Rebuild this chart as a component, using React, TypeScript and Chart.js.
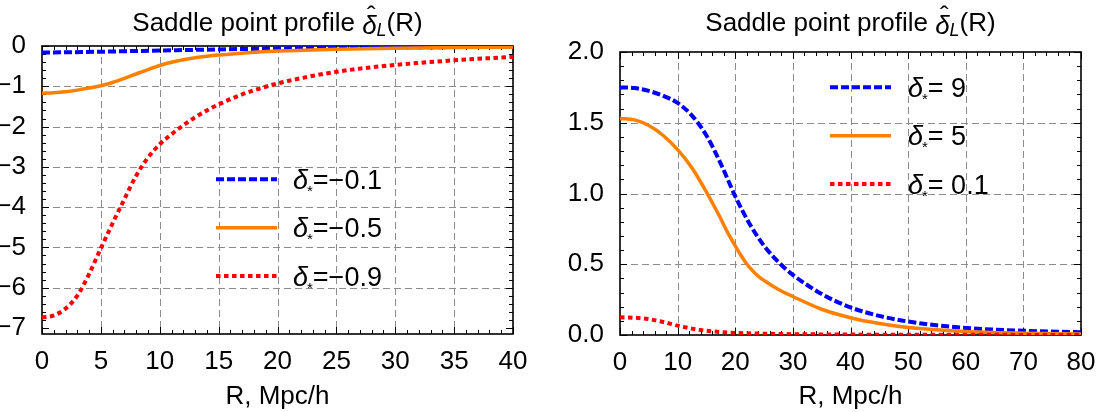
import React, { useEffect, useRef } from "react";
import { Chart, registerables } from "chart.js";

Chart.register(...registerables);

const FONT = "'Liberation Sans', Arial, Helvetica, sans-serif";
const FS = 26;

// ---------- titles ----------
const TITLE_MAIN = "Saddle point profile ";
const TITLE_SYMBOL = "δ";
const TITLE_HAT = "ˆ";
const TITLE_SUB = "L";
const TITLE_TAIL = "(R)";
const X_TITLE = "R, Mpc/h";

// ---------- left panel data (δ* < 0) ----------
const LEFT_LABELS = ["δ*=−0.1", "δ*=−0.5", "δ*=−0.9"];
const LEFT_X_TICKS = [0, 5, 10, 15, 20, 25, 30, 35, 40];
const LEFT_Y_TICKS = [0, -1, -2, -3, -4, -5, -6, -7];

const leftBlueR = [0, 2.5, 5, 7.5, 10, 12.5, 15, 17.5, 20, 25, 30, 35, 40];
const leftBlueV = [-0.16, -0.155, -0.142, -0.127, -0.112, -0.098, -0.085, -0.073, -0.062, -0.046, -0.035, -0.027, -0.021];

const leftOrangeR = [0, 1, 2, 3, 4, 5, 6, 7, 8, 9, 10, 11, 12, 13, 14, 15, 17.5, 20, 25, 30, 35, 40];
const leftOrangeV = [-1.17, -1.16, -1.135, -1.095, -1.045, -0.985, -0.905, -0.805, -0.695, -0.585, -0.485, -0.405, -0.342, -0.292, -0.255, -0.225, -0.165, -0.125, -0.078, -0.053, -0.04, -0.03];

const leftRedR = [0, 1, 2, 3, 4, 5, 6, 7, 8, 9, 10, 11, 12, 13, 14, 15, 16, 17, 18, 20, 22.5, 25, 27.5, 30, 35, 40];
const leftRedV = [-6.74, -6.69, -6.52, -6.2, -5.66, -5.02, -4.4, -3.8, -3.22, -2.77, -2.44, -2.19, -1.97, -1.77, -1.6, -1.45, -1.32, -1.2, -1.1, -0.93, -0.77, -0.64, -0.545, -0.47, -0.355, -0.27];

// ---------- right panel data (δ* > 0) ----------
const RIGHT_LABELS = ["δ*= 9", "δ*= 5", "δ*= 0.1"];
const RIGHT_X_TICKS = [0, 10, 20, 30, 40, 50, 60, 70, 80];
const RIGHT_Y_TICKS = [0, 0.5, 1.0, 1.5, 2.0];

const rightBlueR = [0, 2.5, 5, 7.5, 10, 12.5, 15, 17.5, 20, 22.5, 25, 27.5, 30, 35, 40, 45, 50, 60, 70, 80];
const rightBlueV = [1.75, 1.745, 1.725, 1.69, 1.64, 1.55, 1.41, 1.21, 0.98, 0.785, 0.63, 0.515, 0.425, 0.29, 0.195, 0.135, 0.095, 0.05, 0.03, 0.019];

const rightOrangeR = [0, 2.5, 5, 7.5, 10, 12.5, 15, 17, 19, 20, 21, 22, 23, 24, 25, 27.5, 30, 35, 40, 45, 50, 60, 70, 80];
const rightOrangeV = [1.53, 1.52, 1.48, 1.41, 1.31, 1.18, 1.01, 0.86, 0.7, 0.63, 0.562, 0.502, 0.455, 0.415, 0.385, 0.322, 0.272, 0.182, 0.122, 0.081, 0.053, 0.025, 0.013, 0.007];

const rightRedR = [0, 2.5, 5, 7.5, 10, 12.5, 15, 17.5, 20, 25, 30, 40, 50, 60, 80];
const rightRedV = [0.125, 0.122, 0.112, 0.092, 0.066, 0.045, 0.03, 0.021, 0.015, 0.009, 0.006, 0.003, 0.002, 0.0012, 0.0006];

// ---------- styles ----------
const BLUE = "#0000ff";
const ORANGE = "#ff8000";
const RED = "#ff0000";

function pts(r: number[], v: number[]) {
  return r.map((x, i) => ({ x, y: v[i] }));
}

function makeDatasets(labels: string[], series: [number[], number[]][]) {
  const styles = [
    { color: BLUE, width: 4, dash: [8, 3], order: 3 },
    { color: ORANGE, width: 3.5, dash: [] as number[], order: 2 },
    { color: RED, width: 4, dash: [4.5, 3.5], order: 1 },
  ];
  return series.map(([r, v], i) => ({
    label: labels[i],
    data: pts(r, v),
    borderColor: styles[i].color,
    backgroundColor: styles[i].color,
    borderWidth: styles[i].width,
    borderDash: styles[i].dash,
    borderCapStyle: "butt" as const,
    pointRadius: 0,
    fill: false,
    cubicInterpolationMode: "monotone" as const,
    order: styles[i].order,
  }));
}

function line(ctx: CanvasRenderingContext2D, x1: number, y1: number, x2: number, y2: number) {
  ctx.beginPath();
  ctx.moveTo(x1, y1);
  ctx.lineTo(x2, y2);
  ctx.stroke();
}

function range(a: number, b: number, step: number) {
  const out: number[] = [];
  const n = Math.round((b - a) / step);
  for (let i = 0; i <= n; i++) out.push(+(a + i * step).toFixed(6));
  return out;
}

const framePlugin = {
  id: "frame",
  beforeDatasetsDraw(chart: any, _args: any, o: any) {
    const { ctx, chartArea: a } = chart;
    const x = chart.scales.x;
    const y = chart.scales.y;
    ctx.save();
    // grid
    ctx.strokeStyle = "#8c8c8c";
    ctx.lineWidth = 1;
    ctx.setLineDash([7, 4]);
    for (const v of o.gridX) {
      const px = Math.round(x.getPixelForValue(v)) + 0.5;
      line(ctx, px, a.top, px, a.bottom);
    }
    for (const v of o.gridY) {
      const py = Math.round(y.getPixelForValue(v)) + 0.5;
      line(ctx, a.left, py, a.right, py);
    }
    ctx.setLineDash([]);
    // ticks
    ctx.strokeStyle = "#000";
    ctx.lineWidth = 1;
    const major = 7;
    const minor = 4;
    for (const v of range(o.xMin, o.xMax, o.xMinor)) {
      const px = Math.round(x.getPixelForValue(v)) + 0.5;
      const isMajor = o.xMajorList.some((m: number) => Math.abs(m - v) < 1e-6);
      const L = isMajor ? major : minor;
      line(ctx, px, a.bottom, px, a.bottom - L);
      line(ctx, px, a.top, px, a.top + L);
    }
    for (const v of range(o.yMinTick, o.yMaxTick, o.yMinor)) {
      const py = Math.round(y.getPixelForValue(v)) + 0.5;
      if (py < a.top - 0.5 || py > a.bottom + 0.5) continue;
      const isMajor = o.yMajorList.some((m: number) => Math.abs(m - v) < 1e-6);
      const L = isMajor ? major : minor;
      line(ctx, a.left, py, a.left + L, py);
      line(ctx, a.right, py, a.right - L, py);
    }
    // frame
    ctx.lineWidth = 1.6;
    ctx.strokeRect(a.left, a.top, a.right - a.left, a.bottom - a.top);
    ctx.restore();
  },
};

function drawDeltaLabel(ctx: CanvasRenderingContext2D, label: string, x: number, baseline: number) {
  const rest = label.slice(2);
  ctx.textAlign = "left";
  ctx.textBaseline = "alphabetic";
  ctx.fillStyle = "#000";
  ctx.font = `italic ${FS + 1}px ${FONT}`;
  ctx.fillText("δ", x, baseline);
  let cx = x + ctx.measureText("δ").width;
  ctx.font = `${15}px ${FONT}`;
  ctx.fillText("*", cx - 1, baseline + 7);
  cx += ctx.measureText("*").width - 1;
  ctx.font = `${FS + 1}px ${FONT}`;
  ctx.fillText(rest, cx, baseline);
}

const legendPlugin = {
  id: "mlegend",
  afterDatasetsDraw(chart: any, _args: any, o: any) {
    const { ctx } = chart;
    ctx.save();
    chart.data.datasets.forEach((ds: any, i: number) => {
      const yy = o.rows[i];
      ctx.strokeStyle = ds.borderColor;
      ctx.lineWidth = ds.borderWidth;
      ctx.lineCap = "butt";
      ctx.setLineDash(ds.borderDash || []);
      line(ctx, o.x0, yy, o.x1, yy);
      ctx.setLineDash([]);
      drawDeltaLabel(ctx, ds.label, o.tx, yy + 9.5);
    });
    ctx.restore();
  },
};

const titlePlugin = {
  id: "mtitle",
  afterDraw(chart: any, _args: any, o: any) {
    const { ctx, chartArea: a } = chart;
    ctx.save();
    ctx.fillStyle = "#000";
    ctx.textBaseline = "alphabetic";
    ctx.textAlign = "left";
    const b = o.baseline;
    ctx.font = `${FS}px ${FONT}`;
    const w1 = ctx.measureText(TITLE_MAIN).width;
    ctx.font = `italic ${FS}px ${FONT}`;
    const w2 = ctx.measureText(TITLE_SYMBOL).width;
    ctx.font = `italic 18px ${FONT}`;
    const w3 = ctx.measureText(TITLE_SUB).width;
    ctx.font = `${FS}px ${FONT}`;
    const w4 = ctx.measureText(TITLE_TAIL).width;
    const total = w1 + w2 + w3 + w4;
    let x = (a.left + a.right) / 2 - total / 2;
    ctx.font = `${FS}px ${FONT}`;
    ctx.fillText(TITLE_MAIN, x, b);
    x += w1;
    ctx.font = `italic ${FS}px ${FONT}`;
    ctx.fillText(TITLE_SYMBOL, x, b + 3);
    ctx.font = `${FS}px ${FONT}`;
    ctx.textAlign = "center";
    ctx.fillText(TITLE_HAT, x + w2 / 2 + 2, b - 7);
    ctx.textAlign = "left";
    x += w2;
    ctx.font = `italic 18px ${FONT}`;
    ctx.fillText(TITLE_SUB, x, b + 5);
    x += w3;
    ctx.font = `${FS}px ${FONT}`;
    ctx.fillText(TITLE_TAIL, x, b);
    ctx.restore();
  },
};

function fmtLeftY(v: number) {
  return v === 0 ? "0" : "−" + Math.abs(v);
}
function fmtRightY(v: number) {
  return v.toFixed(1);
}

function makeConfig(p: any): any {
  const tickFont = { family: FONT, size: FS };
  return {
    type: "line",
    data: { datasets: p.datasets },
    plugins: [framePlugin, legendPlugin, titlePlugin],
    options: {
      animation: false,
      responsive: false,
      maintainAspectRatio: false,
      layout: { padding: { top: p.padTop, right: p.padRight, left: 0, bottom: 0 } },
      plugins: {
        legend: { display: false },
        tooltip: { enabled: false },
        title: { display: false },
        frame: p.frame,
        mlegend: p.legend,
        mtitle: { baseline: 31 },
      },
      scales: {
        x: {
          type: "linear",
          min: p.xMin,
          max: p.xMax,
          afterBuildTicks: (s: any) => {
            s.ticks = p.xTicks.map((v: number) => ({ value: v }));
          },
          afterFit: (s: any) => {
            s.height = p.xHeight;
          },
          ticks: {
            font: tickFont,
            color: "#000",
            padding: 4,
            maxRotation: 0,
            autoSkip: false,
            callback: (v: number) => String(v),
          },
          grid: { display: false },
          border: { display: false },
          title: {
            display: true,
            text: X_TITLE,
            font: tickFont,
            color: "#000",
            padding: { top: 0, bottom: 0 },
          },
        },
        y: {
          type: "linear",
          min: p.yMin,
          max: p.yMax,
          afterBuildTicks: (s: any) => {
            s.ticks = p.yTicks.map((v: number) => ({ value: v }));
          },
          afterFit: (s: any) => {
            s.width = p.yWidth;
          },
          ticks: {
            font: tickFont,
            color: "#000",
            padding: 8,
            autoSkip: false,
            callback: p.yFmt,
          },
          grid: { display: false },
          border: { display: false },
        },
      },
    },
  };
}

const leftConfig = () =>
  makeConfig({
    datasets: makeDatasets(LEFT_LABELS, [
      [leftBlueR, leftBlueV],
      [leftOrangeR, leftOrangeV],
      [leftRedR, leftRedV],
    ]),
    xMin: 0,
    xMax: 40,
    yMin: -7.15,
    yMax: 0,
    xTicks: LEFT_X_TICKS,
    yTicks: LEFT_Y_TICKS,
    yFmt: fmtLeftY,
    padTop: 46,
    padRight: 37,
    xHeight: 78,
    yWidth: 42,
    frame: {
      gridX: [5, 10, 15, 20, 25, 30, 35],
      gridY: [-1, -2, -3, -4, -5, -6],
      xMin: 0,
      xMax: 40,
      xMinor: 1,
      xMajorList: LEFT_X_TICKS,
      yMinTick: -7.2,
      yMaxTick: 0,
      yMinor: 0.2,
      yMajorList: LEFT_Y_TICKS,
    },
    legend: { x0: 216, x1: 277, tx: 293, rows: [179.3, 227.7, 276] },
  });

const rightConfig = () =>
  makeConfig({
    datasets: makeDatasets(RIGHT_LABELS, [
      [rightBlueR, rightBlueV],
      [rightOrangeR, rightOrangeV],
      [rightRedR, rightRedV],
    ]),
    xMin: 0,
    xMax: 80,
    yMin: 0,
    yMax: 2,
    xTicks: RIGHT_X_TICKS,
    yTicks: RIGHT_Y_TICKS,
    yFmt: fmtRightY,
    padTop: 52,
    padRight: 27,
    xHeight: 77,
    yWidth: 70,
    frame: {
      gridX: [10, 20, 30, 40, 50, 60, 70],
      gridY: [0.5, 1.0, 1.5],
      xMin: 0,
      xMax: 80,
      xMinor: 2,
      xMajorList: RIGHT_X_TICKS,
      yMinTick: 0,
      yMaxTick: 2,
      yMinor: 0.1,
      yMajorList: RIGHT_Y_TICKS,
    },
    legend: { x0: 280, x1: 341, tx: 358, rows: [87.3, 135.7, 184] },
  });

function Panel({ make, left, width }: { make: () => any; left: number; width: number }) {
  const ref = useRef<HTMLCanvasElement>(null);
  useEffect(() => {
    const chart = new Chart(ref.current as HTMLCanvasElement, make());
    return () => chart.destroy();
  }, []);
  return (
    <canvas
      ref={ref}
      width={width}
      height={412}
      style={{ position: "absolute", left, top: 0, width, height: 412 }}
    />
  );
}

export default function App() {
  return (
    <div style={{ position: "fixed", left: 0, top: 0, width: 1108, height: 412, background: "#fff" }}>
      <Panel make={leftConfig} left={0} width={550} />
      <Panel make={rightConfig} left={550} width={558} />
    </div>
  );
}
